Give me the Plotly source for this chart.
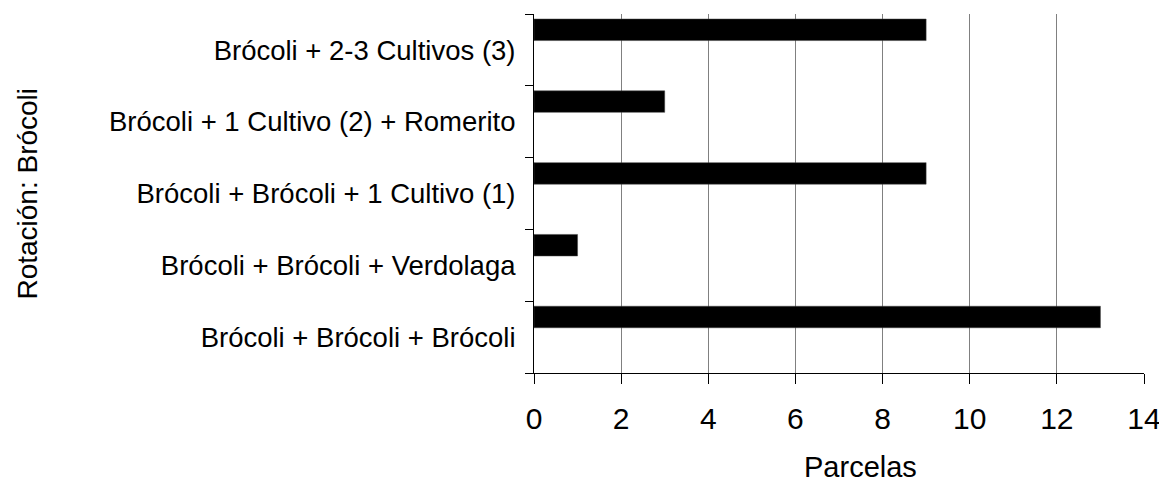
import plotly.graph_objects as go

categorias = [
    "Brócoli + Brócoli + Brócoli",
    "Brócoli + Brócoli + Verdolaga",
    "Brócoli + Brócoli + 1 Cultivo (1)",
    "Brócoli + 1 Cultivo (2) + Romerito",
    "Brócoli + 2-3 Cultivos (3)",
]
parcelas = [13, 1, 9, 3, 9]
x_ticks = [0, 2, 4, 6, 8, 10, 12, 14]

FONT = "Arial, 'Liberation Sans', sans-serif"

fig = go.Figure()
fig.add_trace(go.Bar(
    y=categorias,
    x=parcelas,
    orientation="h",
    width=0.3,
    offset=0.13,
    marker=dict(color="black", line=dict(color="#444444", width=0.5)),
    showlegend=False,
))

# page body has an 8px margin; figure is sized to fit the 1167x486 window
fig.update_layout(
    width=1159,
    height=478,
    margin=dict(l=526, r=19, t=6, b=113),
    paper_bgcolor="white",
    plot_bgcolor="white",
    font=dict(family=FONT, color="black"),
    xaxis=dict(
        range=[0, 14],
        tickvals=x_ticks,
        showgrid=True,
        gridcolor="#808080",
        gridwidth=1,
        zeroline=False,
        showline=True,
        linecolor="black",
        linewidth=1,
        ticks="outside",
        ticklen=10,
        tickcolor="black",
        tickfont=dict(size=30, family=FONT, color="black"),
        ticklabelstandoff=9,
    ),
    yaxis=dict(
        type="category",
        categoryorder="array",
        categoryarray=categorias,
        range=[-0.5, 4.5],
        tickson="boundaries",
        showgrid=False,
        zeroline=False,
        showline=True,
        linecolor="black",
        linewidth=1,
        ticks="outside",
        ticklen=8,
        tickcolor="black",
        tickfont=dict(size=27.5, family=FONT, color="black"),
        ticklabelstandoff=12,
    ),
    annotations=[
        dict(text="Parcelas", xref="paper", yref="paper", x=0.535, y=-0.262,
             xanchor="center", yanchor="middle", showarrow=False,
             font=dict(size=29, family=FONT, color="black")),
        dict(text="Rotación: Brócoli", xref="paper", yref="paper",
             x=-0.831, y=0.5, textangle=-90,
             xanchor="center", yanchor="middle", showarrow=False,
             font=dict(size=28, family=FONT, color="black")),
    ],
)

fig.write_html("out.html")
